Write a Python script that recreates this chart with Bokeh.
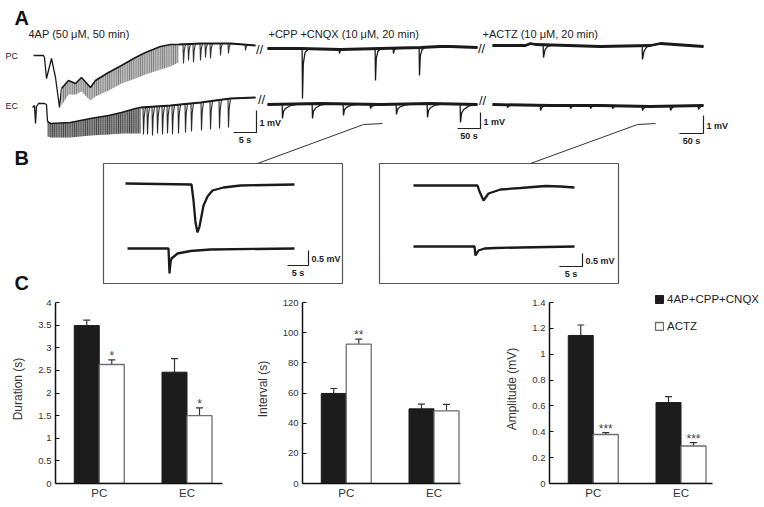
import numpy as np
from bokeh.plotting import figure
from bokeh.layouts import column, row
from bokeh.models import (Range1d, FixedTicker, Whisker, TeeHead, ColumnDataSource,
                          Legend, LegendItem)
from bokeh.core.properties import value
from bokeh.embed import file_html
from bokeh.resources import INLINE

FONT = "Liberation Sans"

# ---------------- Panel C data ----------------
groups = ["PC", "EC"]
series_names = ["4AP+CPP+CNQX", "ACTZ"]

duration_4ap = [3.49, 2.46]
duration_4ap_sem = [0.12, 0.30]
duration_actz = [2.63, 1.50]
duration_actz_sem = [0.10, 0.17]
duration_stars = ["*", "*"]

interval_4ap = [59.7, 49.5]
interval_4ap_sem = [3.3, 3.1]
interval_actz = [92.4, 48.2]
interval_actz_sem = [3.3, 4.2]
interval_stars = ["**", ""]

amplitude_4ap = [1.145, 0.626]
amplitude_4ap_sem = [0.081, 0.046]
amplitude_actz = [0.379, 0.290]
amplitude_actz_sem = [0.015, 0.026]
amplitude_stars = ["***", "***"]

duration_ticks = [0, 0.5, 1, 1.5, 2, 2.5, 3, 3.5, 4]
duration_tick_labels = ["0", "0.5", "1", "1.5", "2", "2.5", "3", "3.5", "4"]
interval_ticks = [0, 20, 40, 60, 80, 100, 120]
interval_tick_labels = ["0", "20", "40", "60", "80", "100", "120"]
amplitude_ticks = [0, 0.2, 0.4, 0.6, 0.8, 1, 1.2, 1.4]
amplitude_tick_labels = ["0", "0.2", "0.4", "0.6", "0.8", "1", "1.2", "1.4"]

# ---------------- Panels A/B trace data (page px) ----------------
# 4AP segment, PC
pc1_onset_x = [33, 43, 44, 46, 51, 55, 59, 61]
pc1_onset_y = [55, 55, 57, 78, 58, 77, 107, 88]
pc1_band_x = [61, 68, 75, 81, 90, 95, 108, 121, 135, 145, 160, 170, 178]
pc1_band_upper = [88, 80, 83, 77, 87, 80, 72, 65, 57, 52, 46, 44, 44]
pc1_band_lower = [105, 94, 94, 91, 100, 96, 90, 83, 78, 74, 69, 66, 62]
pc1_base_x = [178, 200, 230, 255]
pc1_base_y = [44, 43, 43, 45]
pc1_spike_x = [183, 188, 193, 200, 205, 210, 220, 228, 245]
pc1_spike_tip = [63, 60, 62, 60, 57, 58, 55, 53, 50]
# 4AP segment, EC
ec1_onset_x = [32, 34, 35, 36, 38, 44, 46, 47]
ec1_onset_y = [107, 105, 123, 106, 103, 103, 104, 121]
ec1_band_x = [47, 50, 70, 90, 108, 121, 135, 140]
ec1_band_upper = [121, 123, 122, 118, 115, 112, 108, 107]
ec1_band_lower = [136, 137, 137, 135, 134, 133, 133, 133]
ec1_base_x = [140, 170, 200, 230, 255]
ec1_base_y = [107, 105, 102, 98, 97]
ec1_spike_x = [143, 147, 152, 157, 162, 167, 172, 178, 185, 191, 201, 210, 219, 228]
ec1_spike_tip = [134, 134, 135, 133, 134, 133, 134, 133, 132, 131, 130, 129, 128, 127]
# CPP+CNQX segment
pc2_base_x = [267, 300, 340, 380, 420, 440, 450, 477]
pc2_base_y = [48, 48, 49, 48, 47, 46, 46, 47]
pc2_spike_x = [302, 339, 375, 393, 419]
pc2_spike_tip = [98, 53, 80, 53, 75]
ec2_base_x = [267, 320, 380, 430, 477]
ec2_base_y = [104, 103, 104, 103, 104]
ec2_spike_x = [282, 312, 343, 370, 396, 427, 460]
ec2_spike_tip = [118, 118, 115, 108, 114, 117, 122]
# ACTZ segment
pc3_base_x = [492, 525, 530, 535, 600, 650, 660, 703]
pc3_base_y = [45, 45, 43, 44, 46, 45, 43, 46]
pc3_spike_x = [543, 642]
pc3_spike_tip = [57, 59]
ec3_base_x = [492, 550, 600, 650, 703]
ec3_base_y = [104, 105, 105, 106, 105]
ec3_spike_x = [507, 540, 570, 590, 612, 642, 670, 698]
ec3_spike_tip = [107, 110, 108, 108, 108, 110, 110, 109]
# Panel B expanded events
b1_top_x = [125, 191, 193, 195, 197, 199, 203, 207, 212, 223, 240, 294]
b1_top_y = [183, 184, 200, 222, 232, 226, 205, 196, 190, 187, 185, 184]
b1_bot_x = [127, 168, 169, 170, 171, 177, 190, 210, 294]
b1_bot_y = [248, 248, 273, 262, 258, 253, 250.5, 249, 248]
b2_top_x = [413, 477, 479, 483, 488, 500, 520, 545, 560, 574]
b2_top_y = [185, 185, 191, 200, 193, 189, 187.5, 185.5, 186, 187]
b2_bot_x = [413, 474, 475, 478, 484, 495, 520, 574]
b2_bot_y = [246, 246, 255, 250, 248, 247.5, 247, 246]

# scale bars
sb_corner_x = [256, 480, 703, 308, 582]
sb_corner_y = [132, 128, 133, 265, 266]
sb_h_len = [23, 23, 24, 21, 23]
sb_v_len = [22, 16, 18, 15, 13]
sb_v_label = ["1 mV", "1 mV", "1 mV", "0.5 mV", "0.5 mV"]
sb_h_label = ["5 s", "50 s", "50 s", "5 s", "5 s"]

condition_labels = ["4AP (50 \u03bcM, 50 min)", "+CPP +CNQX (10 \u03bcM, 20 min)", "+ACTZ (10 \u03bcM, 20 min)"]
condition_x = [28, 268, 482]
trace_names = ["PC", "EC"]
panel_letters = ["A", "B", "C"]

# spike shape templates (relative x offsets, fraction of depth)
FAST = ([-0.5, 0, 0.7, 2], [0, 1, 0.35, 0])
PC2_SHAPE = ([-0.4, 0, 0.8, 2.5, 6], [0, 1, 0.3, 0.08, 0])
EC2_SHAPE = ([-0.4, 0, 1, 3, 8, 16], [0, 1, 0.5, 0.3, 0.1, 0])
PC3_SHAPE = ([-0.4, 0, 1.5, 4, 9], [0, 1, 0.4, 0.12, 0])
EC3_SHAPE = ([-0.3, 0, 1.5, 4], [0, 1, 0.4, 0])


def spiky(base_x, base_y, spike_x, spike_tip, shape):
    dxs, fracs = shape
    lo, hi = min(dxs), max(dxs)
    pts = [(bx, by) for bx, by in zip(base_x, base_y)
           if not any(sx + lo - 0.3 <= bx <= sx + hi + 0.3 for sx in spike_x)]
    for sx, tip in zip(spike_x, spike_tip):
        for dx, fr in zip(dxs, fracs):
            b = float(np.interp(sx + dx, base_x, base_y))
            pts.append((sx + dx, b + fr * (tip - b)))
    pts.sort()
    return [q[0] for q in pts], [q[1] for q in pts]


W, H = 764, 507
TOP_H = 294

# ---------------- top figure (A, B) ----------------
top = figure(width=W, height=TOP_H, x_range=Range1d(0, W), y_range=Range1d(TOP_H, 0),
             output_backend="svg", toolbar_location=None, min_border=0,
             x_axis_type=None, y_axis_type=None)
top.grid.visible = False
top.outline_line_color = None

TR = "#1a1a1a"
# 4AP segment
top.line(pc1_onset_x, pc1_onset_y, line_color=TR, line_width=1.3)
top.varea(x=pc1_band_x, y1=pc1_band_upper, y2=pc1_band_lower, fill_color="#b8b8b8",
          hatch_pattern="vertical_line", hatch_color="#505050", hatch_scale=2.2, hatch_weight=0.7)
top.line(pc1_band_x, pc1_band_upper, line_color=TR, line_width=1.6)
x, y = spiky(pc1_base_x, pc1_base_y, pc1_spike_x, pc1_spike_tip, FAST)
top.line(x, y, line_color="#333333", line_width=1.1)
top.line(pc1_base_x, pc1_base_y, line_color=TR, line_width=2.0)

top.line(ec1_onset_x, ec1_onset_y, line_color=TR, line_width=1.3)
top.varea(x=ec1_band_x, y1=ec1_band_upper, y2=ec1_band_lower, fill_color="#8a8a8a",
          hatch_pattern="vertical_line", hatch_color="#1a1a1a", hatch_scale=2.2, hatch_weight=0.8)
top.line(ec1_band_x, ec1_band_upper, line_color=TR, line_width=1.6)
x, y = spiky(ec1_base_x, ec1_base_y, ec1_spike_x, ec1_spike_tip, FAST)
top.line(x, y, line_color="#2a2a2a", line_width=1.1)
top.line(ec1_base_x, ec1_base_y, line_color=TR, line_width=2.0)

# CPP+CNQX and ACTZ segments: thin full trace + thick noisy baseline
for bx, by, sx, st, shape in [(pc2_base_x, pc2_base_y, pc2_spike_x, pc2_spike_tip, PC2_SHAPE),
                              (ec2_base_x, ec2_base_y, ec2_spike_x, ec2_spike_tip, EC2_SHAPE),
                              (pc3_base_x, pc3_base_y, pc3_spike_x, pc3_spike_tip, PC3_SHAPE),
                              (ec3_base_x, ec3_base_y, ec3_spike_x, ec3_spike_tip, EC3_SHAPE)]:
    x, y = spiky(bx, by, sx, st, shape)
    top.line(x, y, line_color=TR, line_width=1.3)
    top.line(bx, by, line_color=TR, line_width=2.8)

# panel B boxes and traces
top.quad(left=[103, 379], right=[342, 618], top=[163, 163], bottom=[283, 283],
         fill_color=None, line_color="#555555", line_width=1.2)
for bx, by in [(b1_top_x, b1_top_y), (b1_bot_x, b1_bot_y), (b2_top_x, b2_top_y), (b2_bot_x, b2_bot_y)]:
    top.line(bx, by, line_color=TR, line_width=2.3)

# link lines from A to B
top.multi_line(xs=[[382, 363, 257], [655, 637, 530]], ys=[[123, 124, 163], [123, 124, 163]],
               line_color="#333333", line_width=1)

# break marks
top.text(x=[259, 261, 481, 482], y=[49, 99, 48, 100], text=["//"] * 4,
         text_font=value(FONT), text_font_size="13px", text_align="center",
         text_baseline="middle", text_color="#111111")

# scale bars
sb_xs = [[cx - hl, cx, cx] for cx, hl in zip(sb_corner_x, sb_h_len)]
sb_ys = [[cy, cy, cy - vl] for cy, vl in zip(sb_corner_y, sb_v_len)]
top.multi_line(xs=sb_xs, ys=sb_ys, line_color="#222222", line_width=1.2)
top.text(x=[cx + 3 for cx in sb_corner_x],
         y=[cy - vl / 2 + 1 for cy, vl in zip(sb_corner_y, sb_v_len)],
         text=sb_v_label, text_font=value(FONT), text_font_size="9px", text_font_style="bold",
         text_align="left", text_baseline="middle", text_color="#222222")
top.text(x=[cx - hl / 2 for cx, hl in zip(sb_corner_x, sb_h_len)],
         y=[cy + 2 for cy in sb_corner_y],
         text=sb_h_label, text_font=value(FONT), text_font_size="9px", text_font_style="bold",
         text_align="center", text_baseline="top", text_color="#222222")

# condition labels, trace names, panel letters
top.text(x=condition_x, y=[33, 33, 33], text=condition_labels, text_font=value(FONT),
         text_font_size="11px", text_align="left", text_baseline="middle", text_color="#222222")
top.text(x=[5, 5], y=[55, 105], text=trace_names, text_font=value(FONT),
         text_font_size="9px", text_align="left", text_baseline="middle", text_color="#222222")
top.text(x=[14, 14, 14], y=[17, 157, 282], text=panel_letters, text_font=value(FONT),
         text_font_size="20px", text_font_style="bold", text_align="left",
         text_baseline="middle", text_color="#111111")


# ---------------- bottom bar charts (C) ----------------
BAR_PX = 25.0
BOT_H = H - TOP_H
AXIS_TOP = 302          # page y of the highest tick
AXIS_BOTTOM = 483       # page y of the x axis
FRAME_TOP = 0           # frame starts right below the top figure (room for legend)
group_pos = np.array([1.75, 5.26])


def bar_chart(ylabel, ticks, tick_labels, v4, e4, va, ea, stars, fig_w, left, axis_w,
              with_legend=False):
    frame_w = fig_w - left - (0 if with_legend else fig_w - left - axis_w)
    frame_h = AXIS_BOTTOM - (TOP_H + FRAME_TOP)
    y_end = ticks[-1] * frame_h / (AXIS_BOTTOM - AXIS_TOP)
    p = figure(width=fig_w, height=BOT_H, x_range=Range1d(0, frame_w / BAR_PX),
               y_range=Range1d(0, y_end), output_backend="svg", toolbar_location=None,
               min_border_left=left, min_border_right=fig_w - left - frame_w,
               min_border_top=FRAME_TOP, min_border_bottom=H - AXIS_BOTTOM)
    p.grid.visible = False
    p.outline_line_color = None

    v4 = np.array(v4); e4 = np.array(e4); va = np.array(va); ea = np.array(ea)
    s4 = ColumnDataSource(dict(x=group_pos - 0.5, top=v4, upper=v4 + e4, g=groups))
    sa = ColumnDataSource(dict(x=group_pos + 0.5, top=va, upper=va + ea, g=groups, stars=stars))
    r4 = p.vbar(x="x", top="top", width=1, source=s4, fill_color="#1c1c1c", line_color="#1c1c1c")
    ra = p.vbar(x="x", top="top", width=1, source=sa, fill_color="white", line_color="#6e6e6e",
                line_width=1.3)
    for src in (s4, sa):
        p.add_layout(Whisker(source=src, base="x", lower="top", upper="upper",
                             line_color="#333333", line_width=1.2, lower_head=None,
                             upper_head=TeeHead(size=7, line_color="#333333", line_width=1.2)))
    p.text(x="x", y="upper", text="stars", source=sa, text_font=value(FONT),
           text_font_size="12px", text_align="center", text_baseline="alphabetic",
           text_color="#444444", y_offset=-4)

    p.yaxis.ticker = FixedTicker(ticks=ticks)
    p.yaxis.major_label_overrides = dict(zip(ticks, tick_labels))
    p.yaxis.bounds = (0, ticks[-1])
    p.yaxis.minor_tick_line_color = None
    p.yaxis.major_tick_in = 4
    p.yaxis.major_tick_out = 0
    p.yaxis.major_label_standoff = 4
    p.yaxis.axis_label = ylabel
    p.yaxis.axis_label_standoff = 10
    p.yaxis.axis_label_text_font = FONT
    p.yaxis.axis_label_text_font_size = "12px"
    p.yaxis.axis_label_text_font_style = "normal"
    p.yaxis.axis_label_text_color = "#333333"

    p.xaxis.ticker = FixedTicker(ticks=list(group_pos))
    p.xaxis.major_label_overrides = dict(zip(list(group_pos), groups))
    p.xaxis.bounds = (0, axis_w / BAR_PX)
    p.xaxis.major_tick_line_color = None
    p.xaxis.minor_tick_line_color = None
    p.xaxis.major_tick_in = 0
    p.xaxis.major_tick_out = 0
    p.xaxis.major_label_standoff = 3
    p.xaxis.major_label_text_font_size = "11.5px"

    for ax in (p.xaxis, p.yaxis):
        ax.axis_line_color = "#111111"
        ax.axis_line_width = 1.5
        ax.major_label_text_font = FONT
        ax.major_label_text_color = "#333333"
    p.yaxis.major_tick_line_color = "#111111"
    p.yaxis.major_label_text_font_size = "9.5px"

    if with_legend:
        leg = Legend(items=[LegendItem(label=series_names[0], renderers=[r4]),
                            LegendItem(label=series_names[1], renderers=[ra])],
                     location=(105, 151), glyph_width=10, glyph_height=10, label_height=10,
                     spacing=15, padding=0, margin=0, label_standoff=3,
                     label_text_font=FONT, label_text_font_size="11.5px",
                     label_text_color="#222222", border_line_color=None,
                     background_fill_alpha=0)
        p.add_layout(leg)
    return p


c1 = bar_chart("Duration (s)", duration_ticks, duration_tick_labels, duration_4ap, duration_4ap_sem,
               duration_actz, duration_actz_sem, duration_stars, 245, 55, 167)
c2 = bar_chart("Interval (s)", interval_ticks, interval_tick_labels, interval_4ap, interval_4ap_sem,
               interval_actz, interval_actz_sem, interval_stars, 250, 57, 158)
c3 = bar_chart("Amplitude (mV)", amplitude_ticks, amplitude_tick_labels, amplitude_4ap,
               amplitude_4ap_sem, amplitude_actz, amplitude_actz_sem, amplitude_stars, 269, 54, 163,
               with_legend=True)

layout = column(top, row(c1, c2, c3, spacing=0), spacing=0)
open("out.html", "w").write(file_html(layout, INLINE))
